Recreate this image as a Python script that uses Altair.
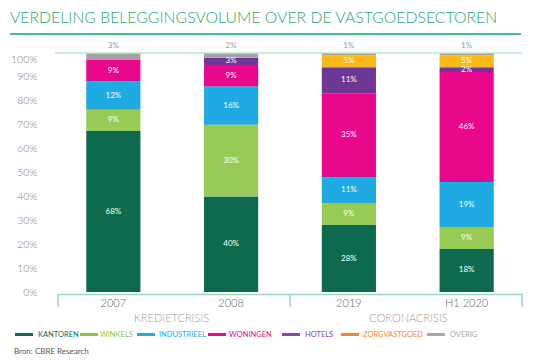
import altair as alt
import pandas as pd

# ---- data ----
years = ["2007", "2008", "2019", "H1 2020"]
sectors = ["KANTOREN", "WINKELS", "INDUSTRIEEL", "WONINGEN", "HOTELS", "ZORGVASTGOED", "OVERIG"]
kantoren = [68, 40, 28, 18]
winkels = [9, 30, 9, 9]
industrieel = [12, 16, 11, 19]
woningen = [9, 9, 35, 46]
hotels = [0, 3, 11, 2]
zorgvastgoed = [0, 0, 5, 5]
overig = [3, 2, 1, 1]
series = [kantoren, winkels, industrieel, woningen, hotels, zorgvastgoed, overig]

bar_colors = ["#0e6a4e", "#97cb55", "#1eaae3", "#e9078b", "#6c3894", "#fbb917", "#a3a3a3"]
legend_colors = ["#0e6a4e", "#8cc63f", "#1eaae3", "#e9078b", "#8e44a8", "#f7862a", "#a8a8a8"]
y_ticks = [0, 0.1, 0.2, 0.3, 0.4, 0.5, 0.6, 0.7, 0.8, 0.9, 1.0]
groups = ["KREDIETCRISIS", "CORONACRISIS"]
title_text = "VERDELING BELEGGINGSVOLUME OVER DE VASTGOEDSECTOREN"
source_text = "Bron: CBRE Research"

# layout constants (pixels, relative to plot area)
LEGEND_LINE_X = [-43, 22, 79, 150, 224, 283, 369]
LEGEND_TEXT_X = [-20, 42, 101, 171, 247, 305, 392]
LEGEND_Y = 281.5
GROUP_X = [113.5, 350.5]

rows = []
for si, (s, vals) in enumerate(zip(sectors, series)):
    for yv, v in zip(years, vals):
        rows.append({"year": yv, "sector": s, "order": si, "value": v})
df = pd.DataFrame(rows)

FONT = "Lato"

x_scale = alt.Scale(domain=years, paddingInner=0.54, paddingOuter=0.24)
x_axis = alt.Axis(
    title=None, labelAngle=0, ticks=False, domainColor="#98d9bb", domainWidth=1.5,
    labelFont=FONT, labelFontSize=11, labelFontWeight=300, labelColor="#666666",
    labelPadding=3, offset=2,
)
y_scale = alt.Scale(domain=[0, 1])
y_axis = alt.Axis(
    values=y_ticks, format=".0%", grid=False, domain=False, ticks=False, title=None,
    labelOverlap=False,
    labelPadding=21, labelFont=FONT, labelFontSize=10.5, labelFontWeight=300, labelColor="#808080",
    labelOffset={"condition": {"test": "datum.value == 1", "value": 6}, "value": 0},
)

base = (
    alt.Chart(df)
    .transform_filter("datum.value > 0")
    .transform_stack(
        stack="value", groupby=["year"], sort=[alt.SortField("order", order="ascending")],
        as_=["y0", "y1"], offset="normalize",
    )
    .transform_calculate(mid="(datum.y0 + datum.y1) / 2", label="datum.value + '%'")
)

bars = base.mark_bar().encode(
    x=alt.X("year:N", sort=years, scale=x_scale, axis=x_axis),
    y=alt.Y("y0:Q", scale=y_scale, axis=y_axis),
    y2="y1:Q",
    color=alt.Color("sector:N", scale=alt.Scale(domain=sectors, range=bar_colors), legend=None),
    order=alt.Order("order:Q"),
)

inner_labels = base.transform_filter("datum.sector != 'OVERIG'").mark_text(
    color="white", font=FONT, fontSize=8, baseline="middle"
).encode(
    x=alt.X("year:N", sort=years, scale=x_scale, axis=x_axis),
    y=alt.Y("mid:Q", scale=y_scale, axis=y_axis),
    text="label:N",
)

top_labels = base.transform_filter("datum.sector == 'OVERIG'").mark_text(
    color="#9a9a9a", font=FONT, fontSize=8, baseline="middle", dy=-7
).encode(
    x=alt.X("year:N", sort=years, scale=x_scale, axis=x_axis),
    y=alt.Y("y1:Q", scale=y_scale, axis=y_axis),
    text="label:N",
)

one = pd.DataFrame({"v": [1]})

top_line = alt.Chart(one).mark_rule(color="#b8e6cf", strokeWidth=1.5).encode(
    y=alt.Y("v:Q", scale=y_scale, axis=y_axis), x=alt.value(-3), x2=alt.value(464)
)

tick_layers = [
    alt.Chart(one).mark_rule(color="#98d9bb", strokeWidth=1.5).encode(
        x=alt.value(px), y=alt.value(241), y2=alt.value(254)
    )
    for px in (0, 232, 464)
]

group_layers = [
    alt.Chart(one).mark_text(
        font=FONT, fontSize=11, fontWeight=300, color="#9a9a9a", baseline="alphabetic",
        align="center", text=g
    ).encode(x=alt.value(px), y=alt.value(268.5))
    for g, px in zip(groups, GROUP_X)
]

legend_layers = []
for s, c, lx, tx in zip(sectors, legend_colors, LEGEND_LINE_X, LEGEND_TEXT_X):
    legend_layers.append(
        alt.Chart(one).mark_rule(color=c, strokeWidth=3).encode(
            x=alt.value(lx), x2=alt.value(lx + 18), y=alt.value(LEGEND_Y)
        )
    )
    legend_layers.append(
        alt.Chart(one).mark_text(
            font=FONT, fontSize=7.5, color=c, align="left", baseline="middle", text=s
        ).encode(x=alt.value(tx), y=alt.value(LEGEND_Y))
    )

title = alt.Chart(one).mark_text(
    font=FONT, fontSize=15.8, fontWeight=300, color="#1fa86a", align="left",
    baseline="alphabetic", text=title_text
).encode(x=alt.value(-48), y=alt.value(-30.5))

title_line = alt.Chart(one).mark_rule(color="#3ec28a", strokeWidth=2).encode(
    x=alt.value(-48), x2=alt.value(463), y=alt.value(-19)
)

source = alt.Chart(one).mark_text(
    font=FONT, fontSize=8, color="#555555", align="left", baseline="alphabetic", text=source_text
).encode(x=alt.value(-44), y=alt.value(301))

chart = (
    alt.layer(bars, inner_labels, top_labels, top_line, *tick_layers, *group_layers,
              *legend_layers, title, title_line, source)
    .properties(
        width=464, height=239,
        padding={"left": 50, "top": 45, "right": 4, "bottom": 64},
        autosize=alt.AutoSizeParams(type="none"),
    )
    .configure_view(stroke=None)
)

chart.save("out.html", embed_options={"renderer": "svg", "actions": False})
